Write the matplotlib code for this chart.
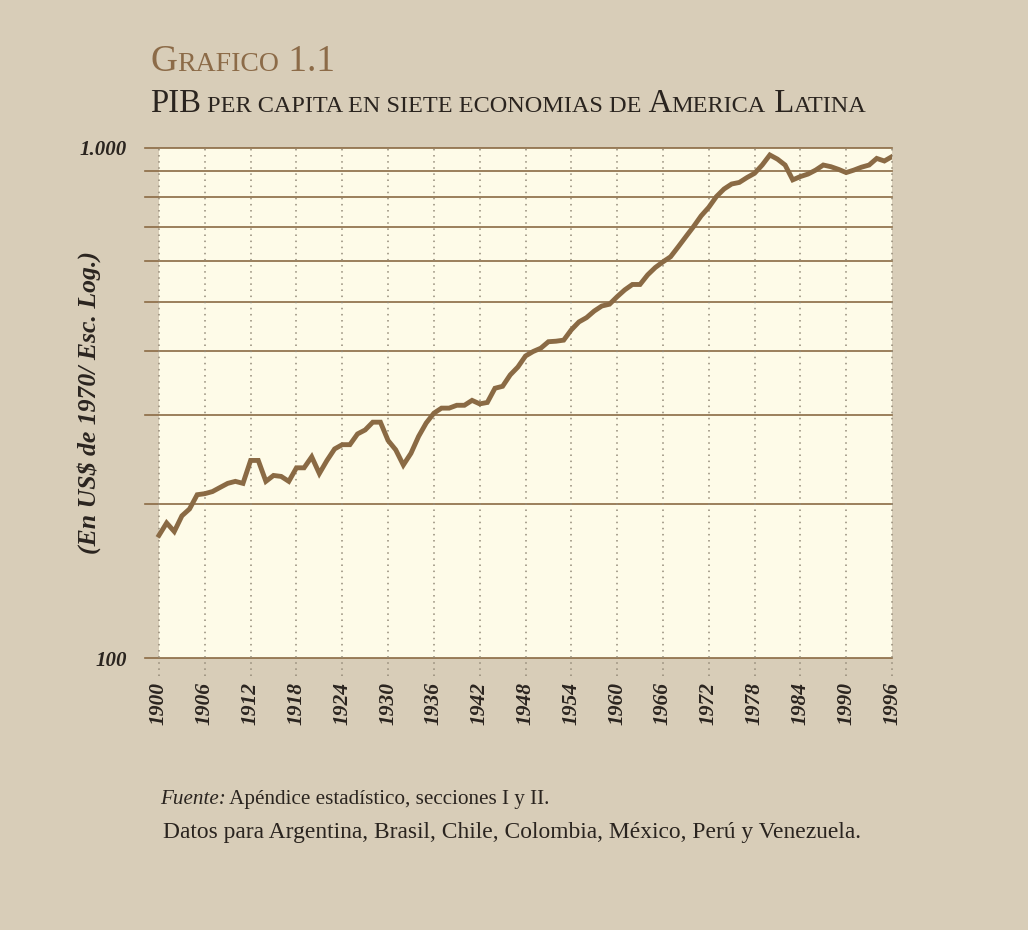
import numpy as np
import matplotlib
matplotlib.use("Agg")
import matplotlib.pyplot as plt
from matplotlib.ticker import FixedLocator, NullLocator

# ==============================
# datos
# ==============================
years = np.arange(1900, 1997)
pib = [174, 184, 177, 190, 196, 209, 210, 212, 216, 220,
       222, 220, 244, 244, 222, 228, 227, 222, 236, 236,
       248, 230, 244, 257, 262, 262, 275, 280, 290, 290,
       267, 256, 239, 252, 272, 289, 302, 309, 309, 313,
       313, 320, 315, 317, 338, 341, 359, 372, 391, 399,
       405, 417, 418, 420, 440, 456, 465, 479, 490, 494,
       511, 527, 540, 540, 564, 583, 598, 612, 640, 670,
       701, 736, 765, 803, 831, 850, 856, 875, 892, 926,
       969, 951, 926, 866, 879, 889, 905, 926, 919, 908,
       895, 905, 917, 926, 954, 943, 962]
xticks = list(range(1900, 1997, 6))
hgrid = [200, 300, 400, 500, 600, 700, 800, 900]
ytick_vals = [100, 1000]
ytick_labels = ["100", "1.000"]

bg = "#d8cdb8"
cream = "#fefbe8"
brown = "#8a6a44"
titlecol = "#8c6b48"
dark = "#2a241f"
serif = "Liberation Serif"

W, H = 1028, 930
fig = plt.figure(figsize=(W / 100, H / 100), dpi=100, facecolor=bg)
renderer = fig.canvas.get_renderer()

# ejes: margen a la izquierda para que las líneas horizontales sobresalgan
px_per_year = (892 - 159) / 96.0
x_left = 1900 - (159 - 145) / px_per_year
ax = fig.add_axes([145 / W, 1 - 658 / H, (892 - 145) / W, (658 - 148) / H])
ax.set_facecolor("none")
ax.set_yscale("log")
ax.set_xlim(x_left, 1996)
ax.set_ylim(100, 1000)
for s in ax.spines.values():
    s.set_visible(False)

ax.axvspan(1900, 1996, color=cream, zorder=0, lw=0)

# rejilla
for v in hgrid + ytick_vals:
    ax.axhline(v, color=brown, lw=1.2, zorder=1, clip_on=False)
for yr in xticks:
    ax.axvline(yr, ymin=-0.035, ymax=1, color="#948a78", lw=1.1,
               linestyle=(0, (1, 3)), zorder=1, clip_on=False)

ax.plot(years, pib, color=brown, lw=3.5, zorder=3, solid_joinstyle="miter")

ax.xaxis.set_major_locator(FixedLocator(xticks))
ax.set_xticklabels([str(x) for x in xticks], rotation=90, fontfamily=serif,
                   fontstyle="italic", fontweight="bold", fontsize=15.5, color=dark)
ax.tick_params(axis="x", length=0, pad=17)
ax.yaxis.set_major_locator(FixedLocator(ytick_vals))
ax.yaxis.set_minor_locator(NullLocator())
ax.set_yticklabels(ytick_labels, fontfamily=serif, fontstyle="italic",
                   fontweight="bold", fontsize=15, color=dark)
ax.tick_params(axis="y", length=0, pad=13)
ax.set_ylabel("(En US$ de 1970/ Esc. Log.)", fontfamily=serif, fontstyle="italic",
              fontweight="bold", fontsize=18.5, color=dark)
ax.yaxis.set_label_coords((101 - 145) / (892 - 145), 0.5)


# ==============================
# textos con versalitas
# ==============================
def smallcaps(x, y, parts, size, color, target=None):
    """parts: lista de (texto, grande?) ; x,y en pixeles (linea base)"""
    def draw(sz):
        objs = []
        cx = x
        for txt, big in parts:
            s = sz if big else sz * 0.74
            t = fig.text(cx / W, 1 - y / H, txt, fontsize=s, fontfamily=serif,
                         color=color, va="baseline", ha="left")
            cx += t.get_window_extent(renderer).width
            objs.append(t)
        return objs, cx - x
    objs, width = draw(size)
    if target:
        for t in objs:
            t.remove()
        objs, width = draw(size * target / width)
    return objs


smallcaps(150, 71, [("G", True), ("RAFICO", False), (" 1.1", True)], 26, titlecol, target=185)
smallcaps(150, 112, [("PIB", True), (" PER CAPITA EN SIETE ECONOMIAS DE", False),
                     (" A", True), ("MERICA", False), (" L", True), ("ATINA", False)],
          20, dark, target=712)

# fuente y nota
t2 = fig.text(163 / W, 1 - 838 / H,
              "Datos para Argentina, Brasil, Chile, Colombia, México, Perú y Venezuela.",
              fontsize=14, fontfamily=serif, color=dark, va="baseline")
w2 = t2.get_window_extent(renderer).width
t2.set_fontsize(14 * 699 / w2)

# primera línea ajustada a su ancho en el original
fs1 = 13
t1 = fig.text(160 / W, 1 - 804 / H, "Fuente:", fontsize=fs1, fontfamily=serif,
              fontstyle="italic", color=dark, va="baseline")
w1 = t1.get_window_extent(renderer).width
t1b = fig.text((160 + w1) / W, 1 - 804 / H, " Apéndice estadístico, secciones I y II.",
               fontsize=fs1, fontfamily=serif, color=dark, va="baseline")
wb = t1b.get_window_extent(renderer).width
k = 388 / (w1 + wb)
t1.set_fontsize(fs1 * k)
t1b.set_fontsize(fs1 * k)
t1b.set_x((160 + w1 * k) / W)

fig.savefig("out.png", dpi=100, facecolor=bg)
